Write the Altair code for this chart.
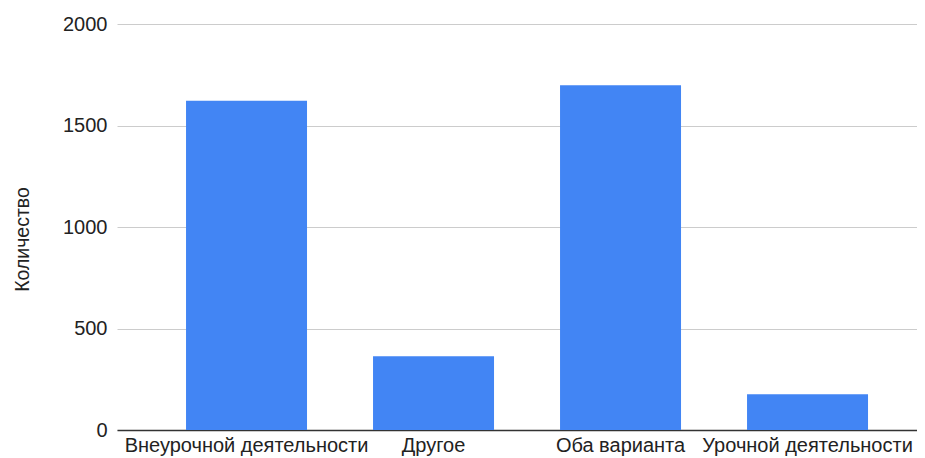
import altair as alt
import pandas as pd

categories = ["Внеурочной деятельности", "Другое", "Оба варианта", "Урочной деятельности"]
values = [1622, 363, 1698, 176]

df = pd.DataFrame({"cat": categories, "val": values})

chart = alt.Chart(df).mark_bar(color="#4285F4").encode(
    x=alt.X("cat:N", sort=None, title=None,
            scale=alt.Scale(paddingInner=0.353, paddingOuter=0.3155, align=0.585),
            axis=alt.Axis(labelAngle=0, labelFontSize=20, labelColor="#222222",
                          labelFont="Liberation Sans", labelPadding=5, ticks=False,
                          domainColor="#333333", domainWidth=1.5, labelOverlap=False,
                          labelBound=False, labelLimit=0, grid=False)),
    y=alt.Y("val:Q", title="Количество",
            scale=alt.Scale(domain=[0, 2000], nice=False),
            axis=alt.Axis(values=[0, 500, 1000, 1500, 2000], format="d", labelFontSize=20,
                          labelColor="#222222", labelFont="Liberation Sans",
                          labelPadding=10, ticks=False, domain=False,
                          gridColor="#cccccc", gridWidth=1,
                          titleFont="Liberation Sans", titleFontSize=19.5,
                          titleFontWeight="normal", titleColor="#222222",
                          titleAngle=-90, titleX=-95, titleY=215,
                          titleAlign="center", titleBaseline="middle")),
).properties(
    width=800, height=406,
    autosize=alt.AutoSizeParams(type="none"),
    padding={"left": 109, "top": 16, "right": 0, "bottom": 34},
).configure_view(stroke=None)

chart.save("out.html", embed_options={"renderer": "svg", "actions": False})
